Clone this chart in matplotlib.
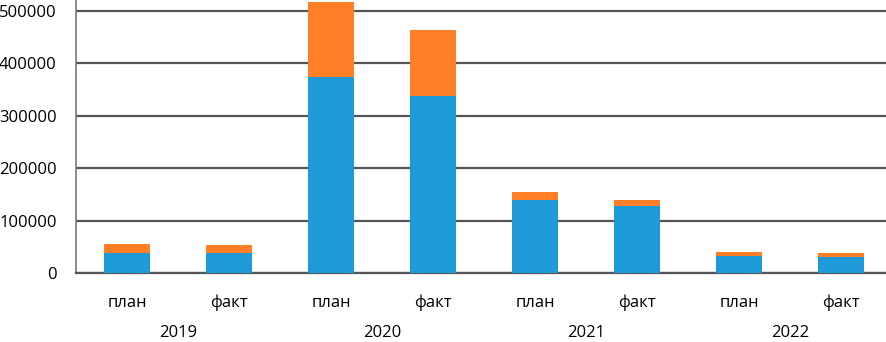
import matplotlib.pyplot as plt
import numpy as np

plt.rcParams['font.family'] = ['Open Sans', 'DejaVu Sans']

years = ["2019", "2020", "2021", "2022"]
kinds = ["план", "факт"]
blue_vals = [39400, 38600, 372600, 336500, 139300, 127400, 32900, 31600]
orange_vals = [16300, 15200, 143400, 126000, 15700, 12600, 7100, 7000]

x = np.arange(len(blue_vals))

fig = plt.figure(figsize=(8.87, 3.42), dpi=100)
ax = fig.add_axes([0.0857, 0.2009, 0.92, 0.7991])

ax.bar(x, blue_vals, width=0.45, color="#1f9ad8", zorder=3)
ax.bar(x, orange_vals, width=0.45, bottom=blue_vals, color="#ff7f27", zorder=3)

ax.set_xlim(-0.5, len(x) - 0.5)
ax.set_ylim(0, 520000)
ax.set_yticks(range(0, 500001, 100000))
ax.tick_params(axis="y", length=0, labelsize=12, pad=14, colors="black")
ax.grid(axis="y", color="#555555", linewidth=1.6, zorder=0)

ax.set_xticks(x)
ax.set_xticklabels([])
ax.tick_params(axis="x", length=0)
trans = ax.get_xaxis_transform()
for i, lab in enumerate(kinds * len(years)):
    ax.text(i, -0.1245, lab, transform=trans, ha="center", va="baseline", fontsize=12)

# year row sits at the very bottom edge
for i, yr in enumerate(years):
    ax.text(2 * i + 0.5, -0.233, yr, transform=trans,
            ha="center", va="baseline", fontsize=12)

for s in ["top", "right"]:
    ax.spines[s].set_visible(False)
ax.spines["left"].set_color("#777777")
ax.spines["left"].set_linewidth(1.2)
ax.spines["bottom"].set_color("#555555")
ax.spines["bottom"].set_linewidth(1.6)

fig.savefig("out.png", dpi=100)
